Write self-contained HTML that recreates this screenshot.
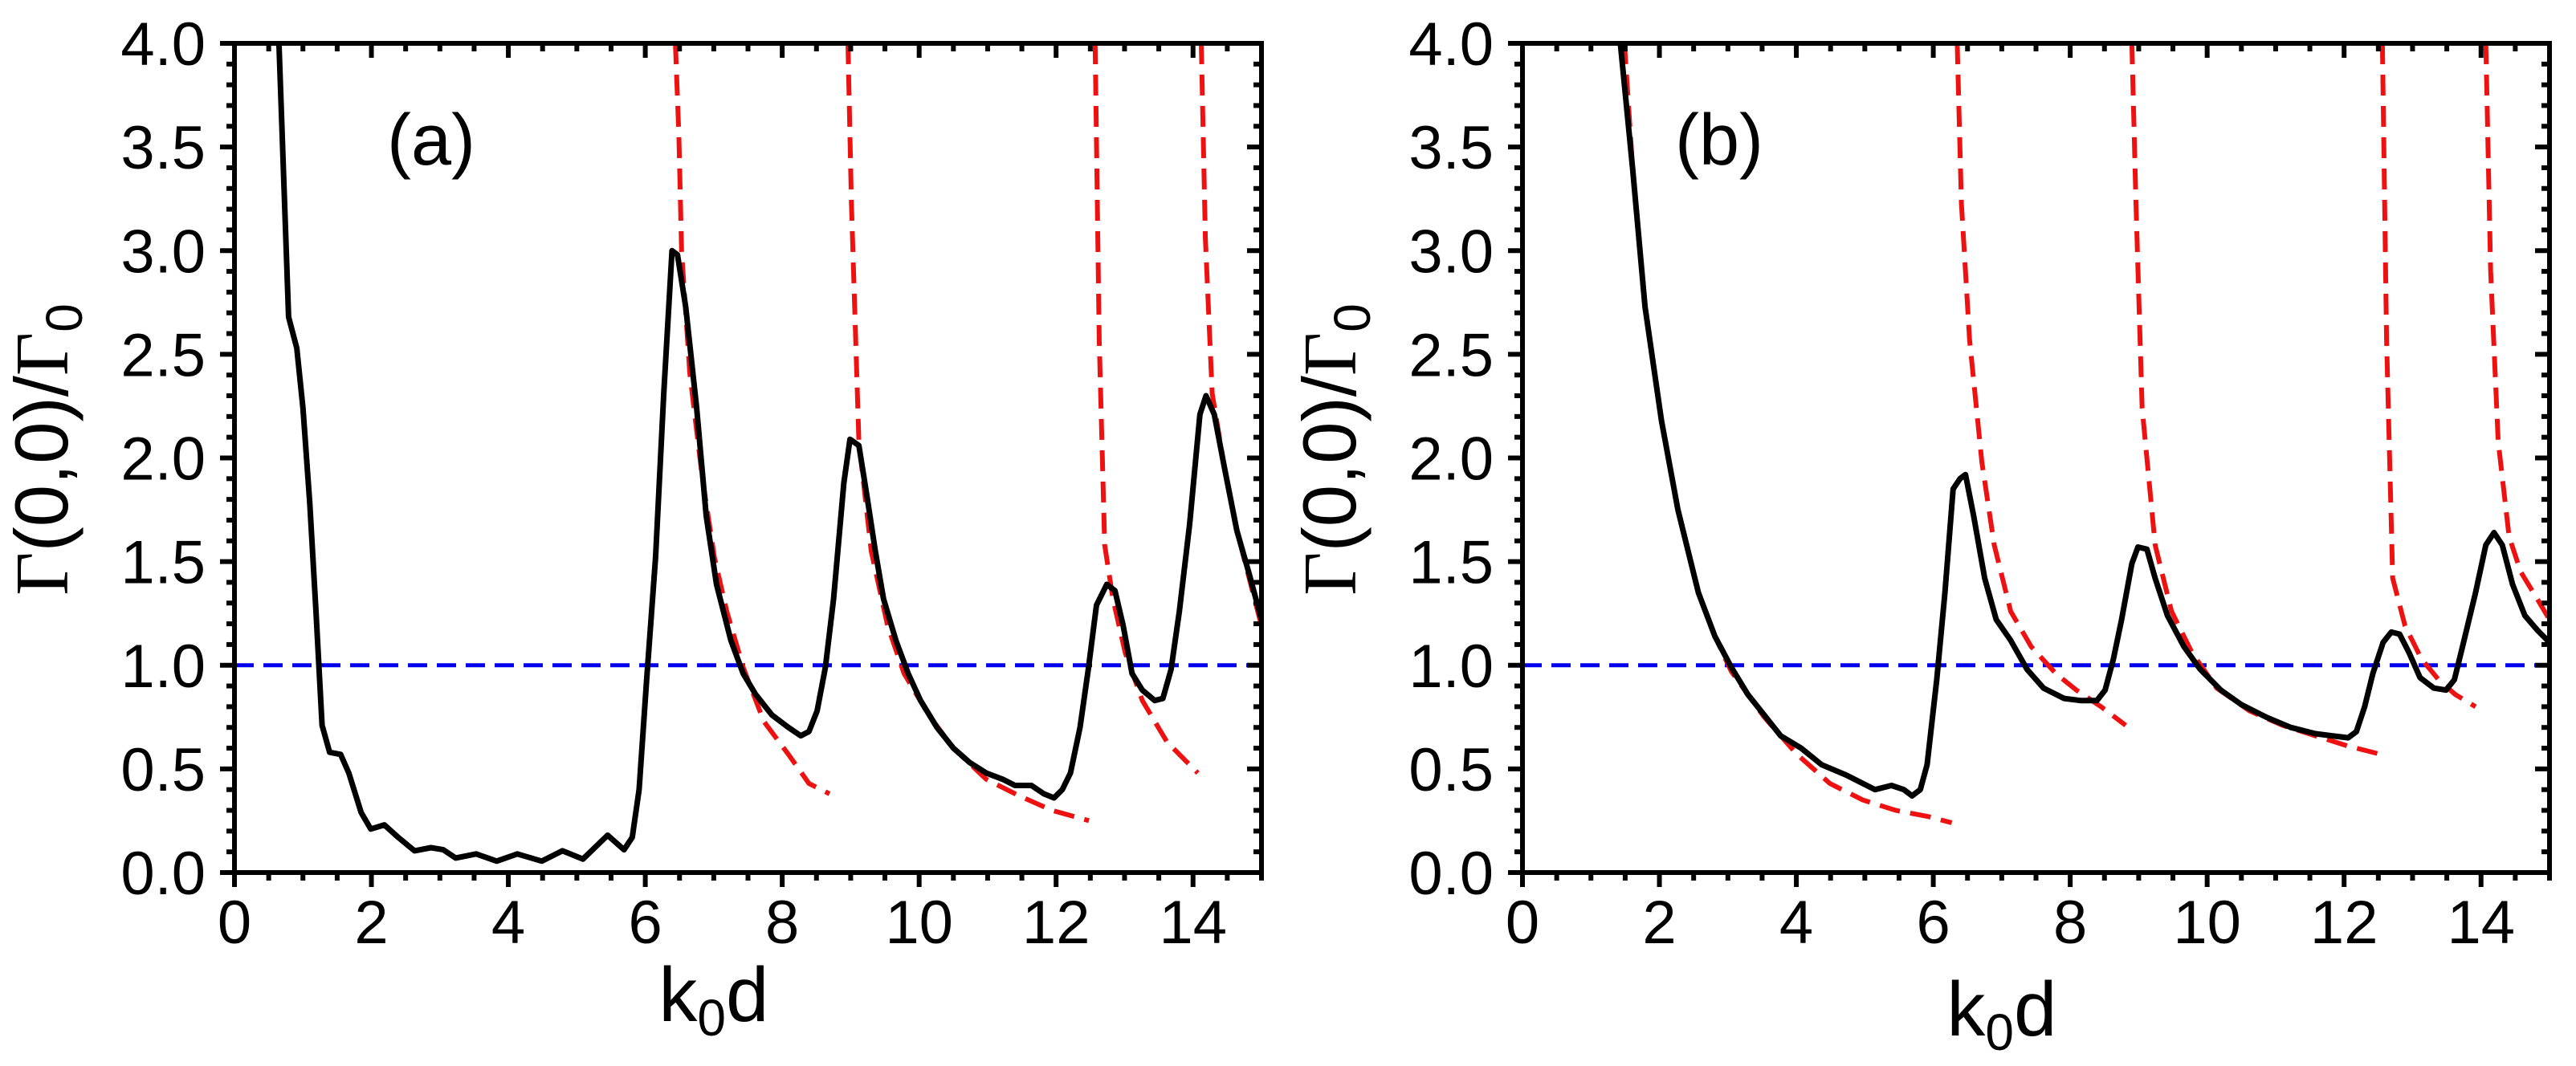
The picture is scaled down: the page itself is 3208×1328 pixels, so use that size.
<!DOCTYPE html>
<html><head><meta charset="utf-8"><style>
html,body{margin:0;padding:0;background:#fff;}
svg{display:block;}
text{font-family:"Liberation Sans",sans-serif;fill:#000;}
</style></head><body>
<svg id="fig" width="3208" height="1328" viewBox="0 0 3208 1328" xmlns="http://www.w3.org/2000/svg"></svg>
<script>
const xTicks=[0,2,4,6,8,10,12,14];
const yTicks=["0.0","0.5","1.0","1.5","2.0","2.5","3.0","3.5","4.0"];
const aBlackX=[0.65,0.79,0.91,1.0,1.1,1.19,1.28,1.39,1.55,1.67,1.85,1.99,2.19,2.39,2.63,2.87,3.05,3.23,3.53,3.83,4.13,4.49,4.79,5.09,5.45,5.69,5.81,5.91,6.02,6.15,6.27,6.39,6.47,6.59,6.75,6.89,7.04,7.25,7.43,7.61,7.85,8.09,8.27,8.39,8.51,8.63,8.75,8.90,8.99,9.12,9.24,9.36,9.48,9.66,9.84,10.02,10.26,10.50,10.74,10.98,11.22,11.40,11.64,11.82,11.97,12.09,12.21,12.35,12.47,12.59,12.74,12.86,12.98,13.11,13.26,13.44,13.56,13.68,13.80,13.95,14.10,14.19,14.31,14.46,14.64,14.82,15.0];
const aBlackY=[4.0,2.68,2.53,2.24,1.78,1.26,0.71,0.58,0.57,0.48,0.29,0.21,0.23,0.17,0.105,0.12,0.11,0.07,0.09,0.055,0.09,0.055,0.105,0.065,0.18,0.11,0.17,0.4,0.93,1.52,2.31,3.0,2.98,2.73,2.24,1.72,1.39,1.12,0.96,0.86,0.76,0.70,0.66,0.68,0.78,0.99,1.32,1.88,2.09,2.06,1.81,1.55,1.32,1.12,0.96,0.83,0.70,0.60,0.53,0.48,0.45,0.42,0.42,0.38,0.36,0.40,0.48,0.70,0.98,1.29,1.39,1.36,1.19,0.96,0.88,0.83,0.84,0.98,1.26,1.68,2.21,2.30,2.21,1.95,1.65,1.44,1.22];
const aRedX=[[6.44,6.49,6.53,6.65,6.83,7.01,7.19,7.43,7.73,8.09,8.39,8.69],[8.96,9.01,9.12,9.30,9.54,9.78,10.14,10.50,10.98,11.46,11.94,12.48],[12.57,12.63,12.71,12.83,13.01,13.26,13.62,14.07],[14.12,14.18,14.28,14.46,14.64,15.0]];
const aRedY=[[4.0,3.56,3.0,2.41,1.91,1.52,1.26,0.99,0.73,0.57,0.43,0.38],[4.0,3.23,2.08,1.55,1.19,0.96,0.76,0.60,0.45,0.37,0.30,0.25],[4.0,2.57,1.58,1.32,1.06,0.83,0.63,0.48],[4.0,3.06,2.31,1.95,1.65,1.19]];
const bBlackX=[1.43,1.61,1.79,2.03,2.27,2.57,2.81,3.05,3.29,3.53,3.77,4.07,4.37,4.73,4.97,5.15,5.39,5.57,5.69,5.81,5.91,6.05,6.17,6.29,6.39,6.47,6.59,6.75,6.92,7.13,7.37,7.61,7.91,8.15,8.39,8.51,8.63,8.75,8.90,8.99,9.12,9.24,9.42,9.66,9.90,10.20,10.50,10.86,11.22,11.58,11.82,12.06,12.18,12.30,12.42,12.57,12.69,12.81,12.95,13.11,13.31,13.49,13.61,13.73,13.92,14.07,14.19,14.31,14.46,14.64,14.82,15.0];
const bBlackY=[4.0,3.39,2.73,2.18,1.75,1.35,1.14,0.99,0.86,0.76,0.66,0.60,0.52,0.47,0.43,0.40,0.42,0.40,0.37,0.40,0.52,0.93,1.35,1.85,1.90,1.92,1.72,1.42,1.22,1.12,0.98,0.89,0.84,0.83,0.83,0.88,1.03,1.22,1.49,1.57,1.56,1.42,1.24,1.09,0.98,0.88,0.81,0.75,0.70,0.67,0.66,0.65,0.68,0.80,0.96,1.11,1.16,1.15,1.06,0.94,0.89,0.88,0.93,1.09,1.35,1.58,1.64,1.58,1.39,1.24,1.17,1.11];
const bRedX=[[1.49,1.61,1.79,2.03,2.27,2.57,2.81,3.05,3.53,4.01,4.49,4.97,5.45,5.93,6.27],[6.35,6.41,6.53,6.71,6.89,7.13,7.43,7.79,8.09,8.45,8.81],[8.90,8.96,9.05,9.24,9.48,9.78,10.14,10.62,11.10,11.58,12.06,12.54],[12.56,12.62,12.71,12.89,13.13,13.38,13.62,13.92],[14.07,14.14,14.25,14.41,14.58,14.82,15.0]];
const bRedY=[[4.0,3.39,2.73,2.18,1.75,1.35,1.14,0.97,0.75,0.57,0.43,0.35,0.30,0.27,0.24],[4.0,3.23,2.57,1.98,1.58,1.26,1.09,0.96,0.88,0.80,0.71],[4.0,3.23,2.24,1.58,1.26,1.06,0.89,0.78,0.71,0.66,0.61,0.57],[4.0,2.57,1.42,1.19,1.03,0.93,0.86,0.80],[4.0,2.90,2.08,1.62,1.45,1.32,1.22]];
const refLine=[1.0];

const NS="http://www.w3.org/2000/svg";
const svg=document.getElementById('fig');
function mk(tag,attrs,parent){const e=document.createElementNS(NS,tag);for(const k in attrs)e.setAttribute(k,attrs[k]);(parent||svg).appendChild(e);return e;}

function panel(off,id,label,blackX,blackY,redX,redY,titleY,ytitleX){
  const L=292+off,R=1571+off,T=54,B=1087;
  const sx=v=>L+(v-0)/15*(R-L);
  const sy=v=>B-(v/4)*(B-T);
  const g=mk('g',{});
  
  
  const cp=mk('clipPath',{id:'clip'+id},g);
  mk('rect',{x:L,y:T,width:R-L,height:B-T},cp);
  const data=mk('g',{'clip-path':'url(#clip'+id+')'},g);
  const bl=mk('line',{x1:L,x2:R,y1:sy(refLine[0]),y2:sy(refLine[0]),stroke:'#0000ee','stroke-width':5,'stroke-dasharray':'24 12'},data);
  
  
  redX.forEach((xs,i)=>{
    const d=xs.map((x,j)=>(j?'L':'M')+sx(x).toFixed(1)+','+sy(redY[i][j]).toFixed(1)).join('');
    const p=mk('path',{d:d,fill:'none',stroke:'#ee1111','stroke-width':6,'stroke-dasharray':'26 13'},data);
    
    
  });
  const d=blackX.map((x,j)=>(j?'L':'M')+sx(x).toFixed(1)+','+sy(blackY[j]).toFixed(1)).join('');
  const bp=mk('path',{d:d,fill:'none',stroke:'#000','stroke-width':7,'stroke-linejoin':'round'},data);
  
  
  const fr=mk('rect',{x:L,y:T,width:R-L,height:B-T,fill:'none',stroke:'#000','stroke-width':6},g);
  
  
  for(let v=0;v<=15.001;v+=0.5){
    const maj=Math.abs(v/2-Math.round(v/2))<1e-6;
    const x=sx(v);
    mk('line',{x1:x,x2:x,y1:B,y2:B+(maj?18:10),stroke:'#000','stroke-width':6},g);
    mk('line',{x1:x,x2:x,y1:T,y2:T+(maj?18:10),stroke:'#000','stroke-width':6},g);
  }
  xTicks.forEach(v=>{
    const t=mk('text',{x:sx(v),y:1175,'font-size':76,'text-anchor':'middle'},g);
    t.textContent=v;
    
    
  });
  for(let k=0;k<=40;k++){
    const v=k/10,maj=k%5===0,y=sy(v);
    mk('line',{x1:L,x2:L-(maj?18:10),y1:y,y2:y,stroke:'#000','stroke-width':6},g);
    mk('line',{x1:R,x2:R-(maj?18:10),y1:y,y2:y,stroke:'#000','stroke-width':6},g);
  }
  yTicks.forEach(s=>{
    const t=mk('text',{x:L-36,y:sy(parseFloat(s))+27,'font-size':76,'text-anchor':'end'},g);
    t.textContent=s;
    
    
  });
  const xt=mk('text',{x:sx(7.0),y:titleY,'font-size':96,'text-anchor':'middle'},g);
  xt.innerHTML='k<tspan font-size="64" dy="18">0</tspan><tspan dy="-18">d</tspan>';
  
  
  const yt=mk('text',{x:0,y:0,'font-size':94,'text-anchor':'middle',transform:'translate('+ytitleX+',560) rotate(-90)'},g);
  yt.innerHTML='<tspan font-family="Liberation Serif,serif">Γ</tspan>(0,0)/<tspan font-family="Liberation Serif,serif">Γ</tspan><tspan font-size="64" dy="18">0</tspan>';
  
  
  const pl=mk('text',{x:L+245,y:205,'font-size':90,'text-anchor':'middle'},g);
  pl.textContent=label;
  
  
}
panel(0,'a','(a)',aBlackX,aBlackY,aRedX,aRedY,1272,84);
panel(1604,'b','(b)',bBlackX,bBlackY,bRedX,bRedY,1290,1604+84);
</script>
</body></html>
